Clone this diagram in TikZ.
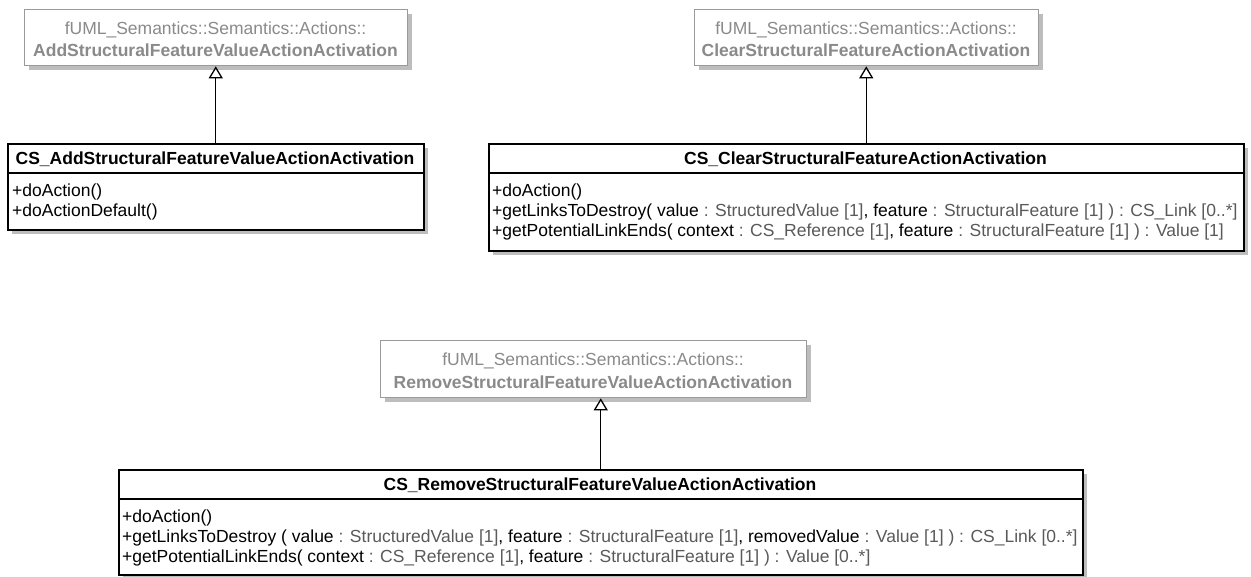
\documentclass[tikz,border=0pt]{standalone}
\usepackage{fontspec}
\setmainfont{Liberation Sans}
\usetikzlibrary{shadows,arrows.meta}
\definecolor{grayline}{HTML}{9A9A9A}
\definecolor{graytext}{HTML}{8A8A8A}
\definecolor{typec}{HTML}{5A5A5A}
\definecolor{shadowc}{HTML}{BDBDBD}
\newcommand\ty[1]{\textcolor{typec}{#1}}
\tikzset{
  graybox/.style={draw=grayline, line width=1.3pt, fill=white, anchor=north west, inner sep=0pt,
    general shadow={fill=shadowc, shadow xshift=4pt, shadow yshift=-4pt}},
  clsbox/.style={draw=black, line width=1.5pt, fill=white, anchor=north west, inner sep=0pt,
    general shadow={fill=shadowc, shadow xshift=4pt, shadow yshift=-4pt}},
  txt/.style={inner sep=0pt, font=\fontsize{17.5}{20}\selectfont},
  gtxt/.style={txt, text=graytext, anchor=base},
  htxt/.style={txt, font=\fontsize{17.5}{20}\selectfont\bfseries, anchor=base},
  atxt/.style={txt, anchor=base west},
  gen/.style={draw=black, line width=1.3pt, -{Triangle[open, length=12pt, width=14pt, line width=1.3pt, fill=white]}},
  divider/.style={draw=black, line width=1.3pt}
}
\begin{document}
\begin{tikzpicture}[x=1pt, y=-1pt]
\useasboundingbox (0,0) rectangle (1251,576);
% ---------- A ----------
\node[graybox, minimum width=383pt, minimum height=56pt] (Ag) at (24,9) {};
\node[gtxt] (Ag1) at (215.5,34) {fUML\_Semantics::Semantics::Actions::};
\node[gtxt, font=\fontsize{17.5}{20}\selectfont\bfseries] (Ag2) at (215.5,56) {AddStructuralFeatureValueActionActivation};
\node[clsbox, minimum width=416pt, minimum height=86pt] (Ac) at (7,143) {};
\draw[divider] (7,173) -- (423,173);
\node[htxt] (Ah) at (215,164) {CS\_AddStructuralFeatureValueActionActivation};
\node[atxt] (Aa1) at (12,196) {+doAction()};
\node[atxt] (Aa2) at (12,216) {+doActionDefault()};
\draw[gen] (Ac.north) -- (Ac.north |- Ag.south);
% ---------- B ----------
\node[graybox, minimum width=344pt, minimum height=56pt] (Bg) at (694,9) {};
\node[gtxt] (Bg1) at (866,34) {fUML\_Semantics::Semantics::Actions::};
\node[gtxt, font=\fontsize{17.5}{20}\selectfont\bfseries] (Bg2) at (866,56) {ClearStructuralFeatureActionActivation};
\node[clsbox, minimum width=755pt, minimum height=107pt] (Bc) at (488,143) {};
\draw[divider] (488,173) -- (1243,173);
\node[htxt] (Bh) at (865.5,164) {CS\_ClearStructuralFeatureActionActivation};
\node[atxt] (Ba1) at (492,196) {+doAction()};
\node[atxt] (Ba2) at (492,216) {+getLinksToDestroy( value \ty{: StructuredValue [1]}, feature \ty{: StructuralFeature [1] ) : CS\_Link [0..*]}};
\node[atxt] (Ba3) at (492,236) {+getPotentialLinkEnds( context \ty{: CS\_Reference [1]}, feature \ty{: StructuralFeature [1] ) : Value [1]}};
\draw[gen] (Bc.north) -- (Bc.north |- Bg.south);
% ---------- C ----------
\node[graybox, minimum width=426pt, minimum height=57pt] (Cg) at (380,340) {};
\node[gtxt] (Cg1) at (593,365) {fUML\_Semantics::Semantics::Actions::};
\node[gtxt, font=\fontsize{17.5}{20}\selectfont\bfseries] (Cg2) at (593,388) {RemoveStructuralFeatureValueActionActivation};
\node[clsbox, minimum width=964pt, minimum height=105pt] (Cc) at (118,469) {};
\draw[divider] (118,499) -- (1082,499);
\node[htxt] (Ch) at (600,490) {CS\_RemoveStructuralFeatureValueActionActivation};
\node[atxt] (Ca1) at (122,522) {+doAction()};
\node[atxt] (Ca2) at (122,542) {+getLinksToDestroy ( value \ty{: StructuredValue [1]}, feature \ty{: StructuralFeature [1]}, removedValue \ty{: Value [1] ) : CS\_Link [0..*]}};
\node[atxt] (Ca3) at (122,562) {+getPotentialLinkEnds( context \ty{: CS\_Reference [1]}, feature \ty{: StructuralFeature [1] ) : Value [0..*]}};
\draw[gen] (Cc.north) -- (Cc.north |- Cg.south);
\end{tikzpicture}
\end{document}
